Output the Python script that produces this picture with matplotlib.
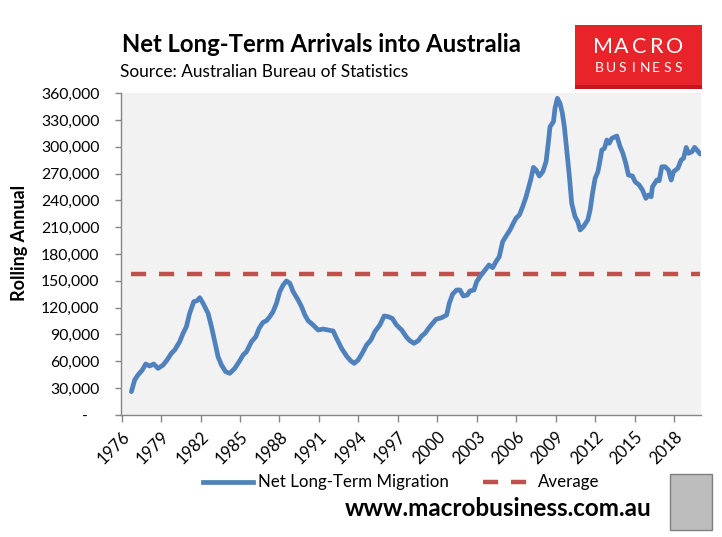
import matplotlib
matplotlib.use("Agg")
import matplotlib.pyplot as plt
from matplotlib.lines import Line2D
from matplotlib.patches import Rectangle
from matplotlib.ticker import FuncFormatter

# ---- data ----
years = [1976.74, 1976.99, 1977.24, 1977.57, 1977.83, 1978.13, 1978.44, 1978.76, 1979.15, 1979.45,
         1979.78, 1980.03, 1980.41, 1980.67, 1980.92, 1981.17, 1981.48, 1981.73, 1981.94, 1982.19,
         1982.57, 1982.83, 1983.08, 1983.33, 1983.59, 1983.91, 1984.22, 1984.60, 1984.93, 1985.23,
         1985.49, 1985.87, 1986.20, 1986.45, 1986.75, 1987.01, 1987.26, 1987.51, 1987.77, 1988.02,
         1988.28, 1988.53, 1988.79, 1989.04, 1989.42, 1989.68, 1989.93, 1990.18, 1990.56, 1990.94,
         1991.32, 1991.70, 1992.08, 1992.34, 1992.72, 1993.10, 1993.43, 1993.68, 1993.98, 1994.29,
         1994.62, 1994.95, 1995.25, 1995.63, 1995.96, 1996.27, 1996.57, 1996.90, 1997.29, 1997.67,
         1997.92, 1998.22, 1998.55, 1998.81, 1999.06, 1999.39, 1999.90, 2000.33, 2000.71, 2000.91,
         2001.17, 2001.47, 2001.72, 2001.98, 2002.28, 2002.48, 2002.79, 2002.99, 2003.24, 2003.63,
         2003.93, 2004.21, 2004.46, 2004.71, 2004.97, 2005.28, 2005.53, 2005.78, 2005.98, 2006.24,
         2006.49, 2006.75, 2006.92, 2007.11, 2007.31, 2007.51, 2007.76, 2008.02, 2008.27, 2008.45,
         2008.57, 2008.83, 2008.95, 2009.13, 2009.33, 2009.51, 2009.66, 2009.84, 2010.02, 2010.22,
         2010.47, 2010.68, 2010.86, 2011.11, 2011.44, 2011.62, 2011.80, 2012.00, 2012.21, 2012.38,
         2012.51, 2012.71, 2012.89, 2013.07, 2013.27, 2013.65, 2013.90, 2014.11, 2014.33, 2014.53,
         2014.84, 2015.04, 2015.35, 2015.60, 2015.86, 2016.06, 2016.26, 2016.36, 2016.69, 2016.87,
         2017.07, 2017.32, 2017.58, 2017.78, 2017.96, 2018.29, 2018.54, 2018.72, 2018.93, 2019.10,
         2019.36, 2019.56, 2019.74, 2019.99]
net_migration = [25900, 38950, 44550, 50150, 56900, 54600, 56900, 52000, 55700, 61300,
                 68800, 72500, 81800, 91200, 98600, 113600, 126600, 127700, 131100, 124800,
                 113600, 98600, 81800, 65000, 55700, 48200, 46400, 52000, 59400, 66900,
                 70600, 81800, 87400, 96800, 103500, 105300, 109800, 115400, 124800, 137800,
                 145300, 149800, 147200, 137800, 128500, 121000, 111700, 105300, 100500, 94900,
                 96000, 94900, 93800, 85600, 74400, 65800, 60200, 57600, 61300, 68800,
                 78100, 83700, 93000, 100500, 110600, 109800, 108000, 100500, 94900, 86700,
                 82900, 80000, 82900, 88200, 91200, 97900, 106900, 108700, 111700, 124800,
                 135200, 139700, 139700, 133000, 134100, 138600, 139700, 149000, 154600, 162100,
                 167700, 164700, 171400, 177000, 193800, 201300, 206900, 214400, 220000, 223700,
                 232900, 244100, 253500, 263600, 277000, 274000, 267300, 272100, 283300, 305700,
                 322500, 328100, 343100, 354300, 348700, 337500, 322500, 296400, 270300, 236700,
                 221800, 216200, 206900, 210600, 218100, 229300, 248000, 264700, 272100, 285200,
                 296400, 298300, 307600, 303900, 309500, 312100, 300100, 292700, 281500, 268400,
                 267300, 260900, 257200, 251600, 242300, 246000, 244100, 255300, 262800, 262000,
                 277700, 277700, 274000, 262800, 272100, 275900, 285200, 287100, 299300, 292700,
                 294500, 299400, 296400, 291900]
average_value = 157300
x_tick_years = [1976, 1979, 1982, 1985, 1988, 1991, 1994, 1997, 2000, 2003, 2006, 2009, 2012, 2015, 2018]
y_ticks = [0, 30000, 60000, 90000, 120000, 150000, 180000, 210000, 240000, 270000, 300000, 330000, 360000]
series_names = ["Net Long-Term Migration", "Average"]

FONT = "Lato"
plt.rcParams['font.family'] = [FONT, 'DejaVu Sans']

W, H = 722, 537
fig = plt.figure(figsize=(W / 100, H / 100), dpi=100, facecolor="white")
ax = fig.add_axes([121 / W, 1 - 414.8 / H, (701 - 121) / W, (414.8 - 93.2) / H])
ax.set_facecolor("#F2F2F2")

blue = "#4F81BD"
red = "#C0504D"
ax.plot(years, net_migration, color=blue, lw=3.4, solid_joinstyle="round", solid_capstyle="round", zorder=3)
ax.plot([years[0], years[-1]], [average_value, average_value], color=red, lw=3.2,
        linestyle=(0, (3.4, 2.9)), zorder=2)

ax.set_xlim(1975.95, 2020.05)
ax.set_ylim(0, 360000)
ax.set_xticks(x_tick_years)
ax.set_xticklabels([str(y) for y in x_tick_years], rotation=45, ha="right",
                   rotation_mode="anchor", fontsize=12)
ax.set_yticks(y_ticks)
ax.yaxis.set_major_formatter(FuncFormatter(lambda v, p: "-   " if v == 0 else f"{int(v):,}"))
for lab in ax.get_yticklabels():
    lab.set_fontsize(11.3)

for s in ["top", "right"]:
    ax.spines[s].set_visible(False)
for s in ["left", "bottom"]:
    ax.spines[s].set_color("#868686")
    ax.spines[s].set_linewidth(1.0)
ax.tick_params(axis="y", direction="out", length=4.5, color="#868686", width=1.0,
               labelcolor="black", pad=11)
ax.tick_params(axis="x", direction="out", length=5, color="#868686", width=1.0,
               labelcolor="black", pad=5)

ax.set_ylabel("Rolling Annual", fontsize=13, fontweight="bold")
ax.yaxis.set_label_coords((28 - 121) / (701 - 121), (414.8 - 243) / (414.8 - 93.2))

# titles
fig.text(122 / W, 1 - 45 / H, "Net Long-Term Arrivals into Australia", fontsize=17.2,
         fontweight="bold", ha="left", va="center")
fig.text(120 / W, 1 - 72 / H, "Source: Australian Bureau of Statistics", fontsize=12.4,
         ha="left", va="center")

# logo box
fig.patches.append(Rectangle((575 / W, 1 - 89 / H), 127 / W, 64 / H, transform=fig.transFigure,
                             facecolor="#E8232A", edgecolor="none", zorder=1))
fig.patches.append(Rectangle((575 / W, 1 - 89 / H), 127 / W, 4 / H, transform=fig.transFigure,
                             facecolor="#C4161C", edgecolor="none", zorder=1))


def spaced_word(word, x0, x1, y, size):
    n = len(word)
    step = (x1 - x0) / n
    for i, ch in enumerate(word):
        fig.text((x0 + step * (i + 0.5)) / W, 1 - y / H, ch, color="white", fontsize=size,
                 ha="center", va="center", zorder=2)


spaced_word("MACRO", 594, 684, 47, 15.5)
spaced_word("BUSINESS", 594, 684, 68, 10)

# legend (drawn in figure pixels)
ly = 1 - 482 / H
fig.add_artist(Line2D([203 / W, 253 / W], [ly, ly], color=blue, lw=3.4, transform=fig.transFigure))
fig.text(258 / W, ly, series_names[0], fontsize=12.2, ha="left", va="center")
fig.add_artist(Line2D([483 / W, 527 / W], [ly, ly], color=red, lw=3.2,
                      linestyle=(0, (3.4, 2.9)), transform=fig.transFigure))
fig.text(538 / W, ly, series_names[1], fontsize=12.2, ha="left", va="center")

# footer
fig.text(498 / W, 1 - 508 / H, "www.macrobusiness.com.au", fontsize=17.5, fontweight="bold",
         ha="center", va="center")
fig.patches.append(Rectangle((670 / W, 1 - 530 / H), 42 / W, 56 / H, transform=fig.transFigure,
                             facecolor="#BDBDBD", edgecolor="#7F7F7F", lw=1.0, zorder=1))

fig.savefig("out.png", dpi=100, facecolor="white")
